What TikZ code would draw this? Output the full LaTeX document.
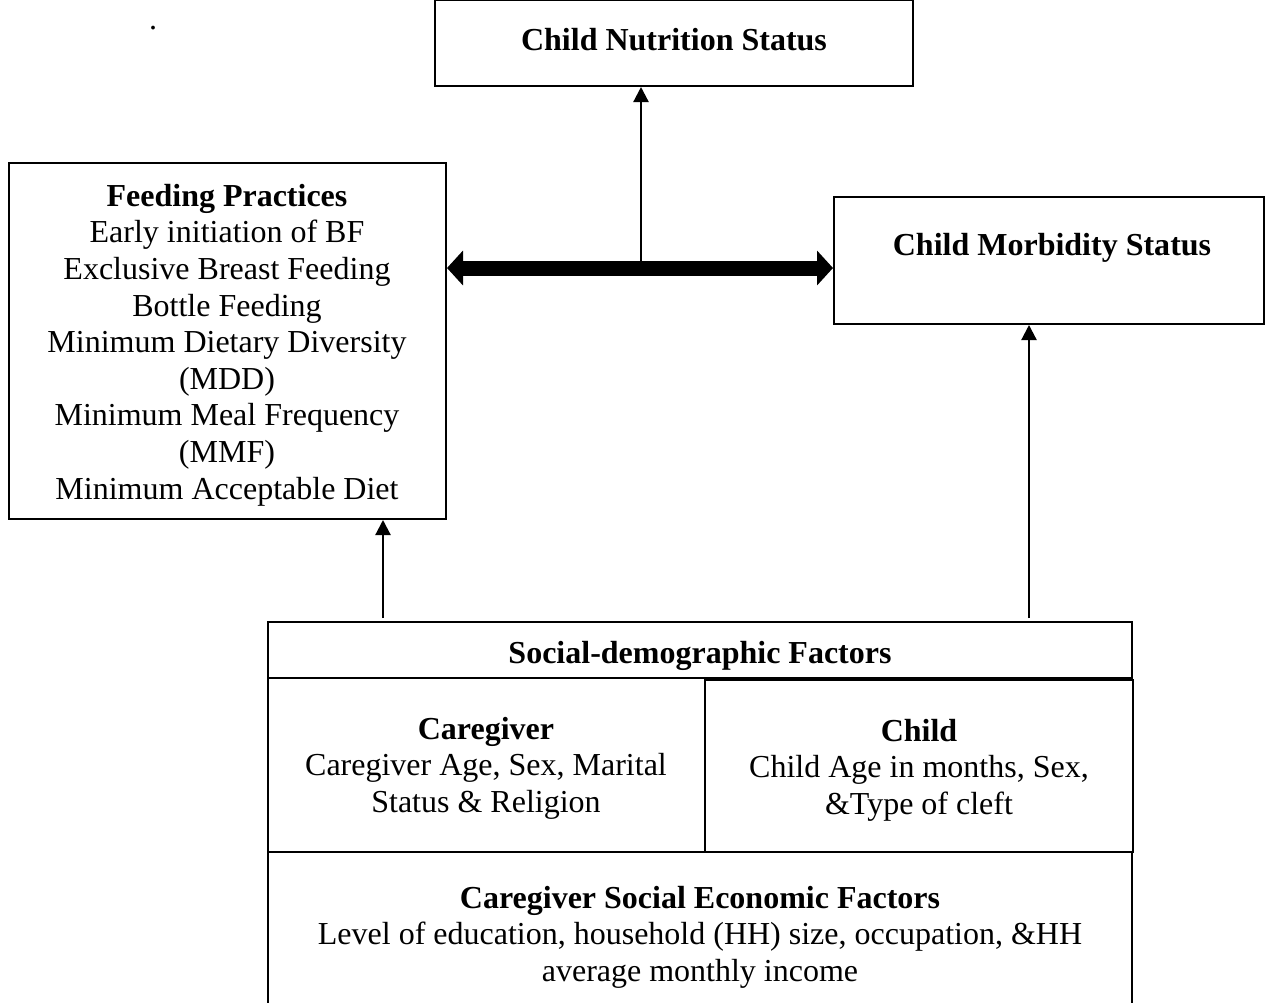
\documentclass[tikz,border=0pt]{standalone}
\usepackage{fontspec}
\setmainfont{Liberation Serif}
\usetikzlibrary{arrows.meta}
\tikzset{
  box/.style={draw, line width=2pt, inner sep=0pt, minimum width=#1},
  txt/.style={align=center, inner sep=0pt, font=\fontsize{32}{36.6}\selectfont},
  hd/.style={txt, font=\fontsize{32}{36.6}\selectfont\bfseries},
  thin/.style={line width=2.2pt, -{Triangle[length=15pt,width=15pt]}},
  thick/.style={line width=15pt, {Triangle[length=16pt,width=34pt]}-{Triangle[length=16pt,width=34pt]}}
}
\begin{document}
\begin{tikzpicture}[x=1pt,y=-1pt]
\useasboundingbox (0,0) rectangle (1265,1002);
% boxes
\node[box=478pt, minimum height=86pt] (nut) at (674,43) {};
\node[box=437pt, minimum height=356pt] (feed) at (227.5,341) {};
\node[box=430pt, minimum height=127pt] (morb) at (1049,260.5) {};
\node[box=864pt, minimum height=56pt] (soc) at (700,650) {};
\node[box=437pt, minimum height=174pt] (care) at (486.5,765) {};
\node[box=428pt, minimum height=172pt, line width=2.8pt] (child) at (919,766) {};
\node[box=864pt, minimum height=160pt] (ses) at (700,932) {};
% texts
\node[hd] (tnut) at (674,40) {Child Nutrition Status};
\node[txt] (tfeed) at (227,345) {\textbf{Feeding Practices}\\Early initiation of BF\\Exclusive Breast Feeding\\Bottle Feeding\\Minimum Dietary Diversity\\(MDD)\\Minimum Meal Frequency\\(MMF)\\Minimum Acceptable Diet};
\node[hd] (tmorb) at (1052,248) {Child Morbidity Status};
\node[hd] (tsoc) at (700,656) {Social-demographic Factors};
\node[txt] (tcare) at (486,768) {\textbf{Caregiver}\\Caregiver Age, Sex, Marital\\Status \& Religion};
\node[txt] (tchild) at (919,770) {\textbf{Child}\\Child Age in months, Sex,\\\&Type of cleft};
\node[txt] (tses) at (700,937) {\textbf{Caregiver Social Economic Factors}\\Level of education, household (HH) size, occupation, \&HH\\average monthly income};
\node[txt] (dot) at (153,28) {.};
% connectors
\coordinate (mid) at (641,268);
\draw[thick] (feed.east |- mid) -- (morb.west |- mid);
\draw[thin] (mid) -- (nut.south -| mid);
\coordinate (s1) at (383,618);
\coordinate (s2) at (1029,618);
\draw[thin] (s1) -- (feed.south -| s1);
\draw[thin] (s2) -- (morb.south -| s2);
\end{tikzpicture}
\end{document}
